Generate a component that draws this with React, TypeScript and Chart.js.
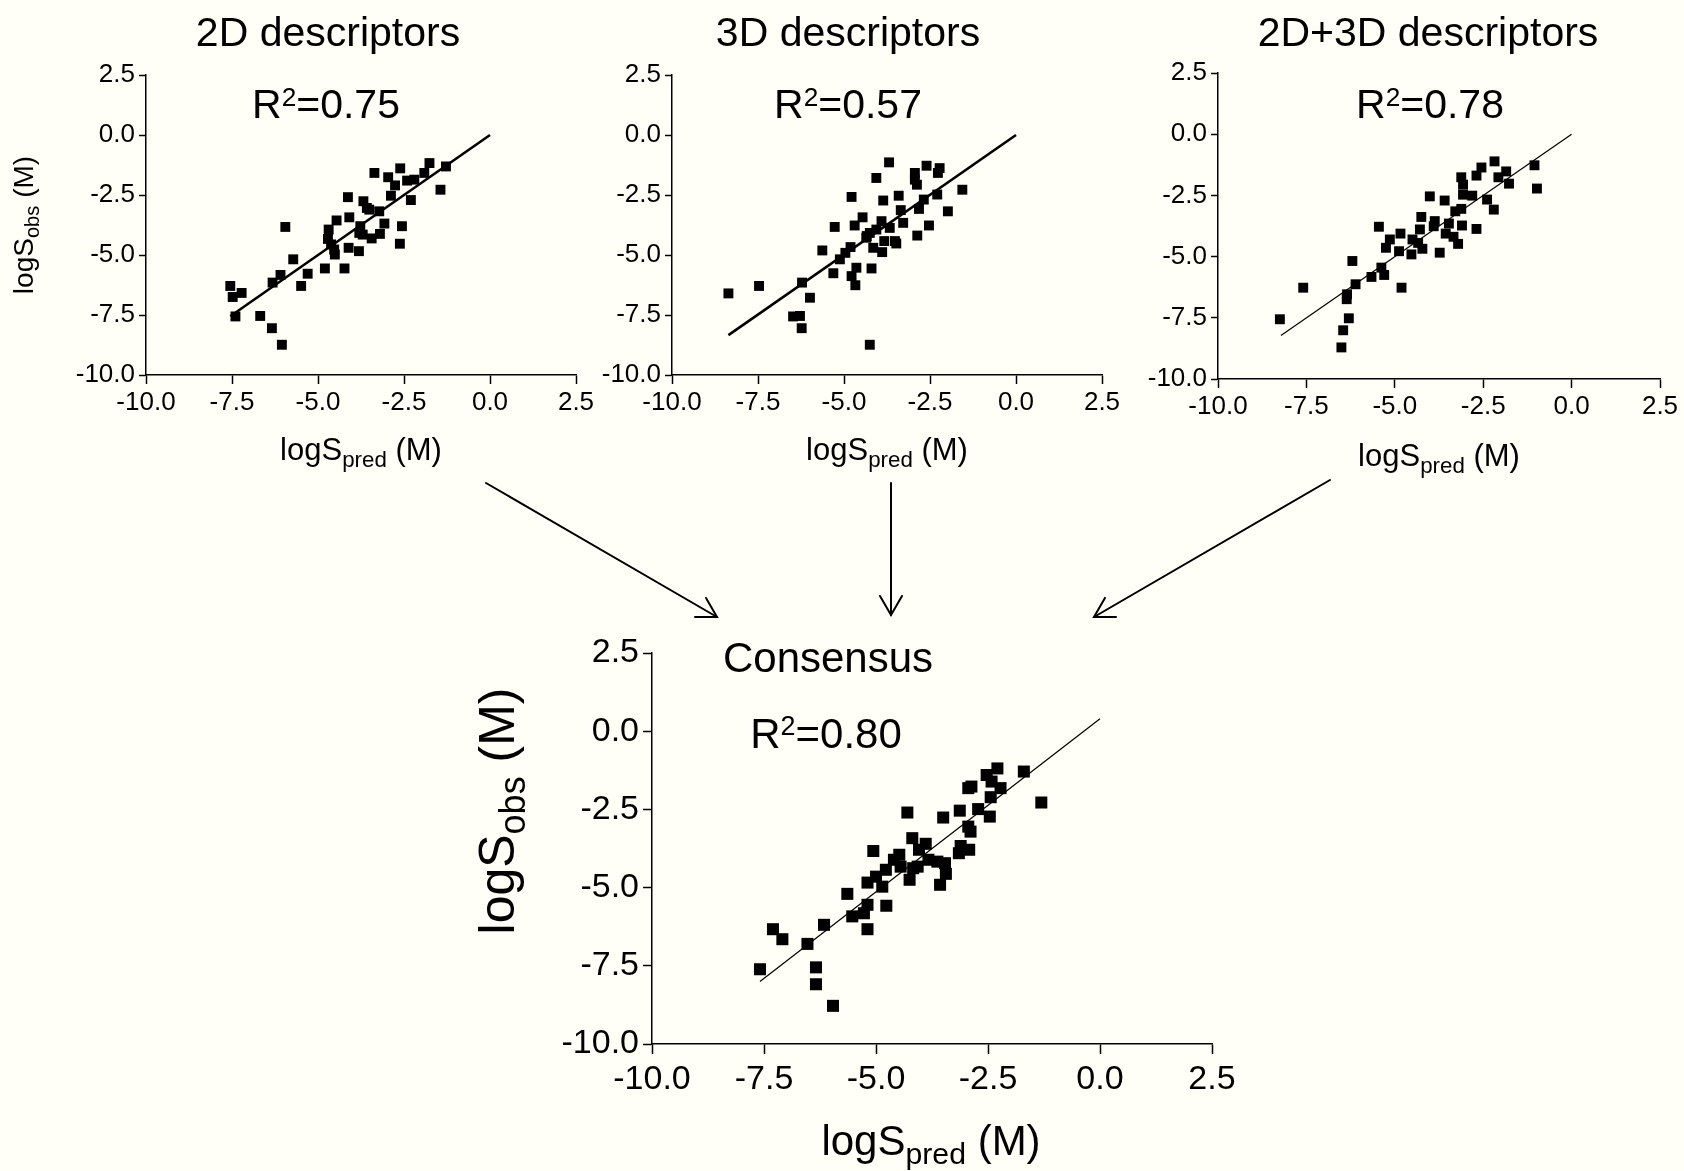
import React, { useEffect, useRef } from 'react';
import { Chart, registerables } from 'chart.js';

Chart.register(...registerables);

const FONT = '"Liberation Sans", Arial, Helvetica, sans-serif';
const BG = '#FFFFF7';

// Axis ticks shared by all four panels
const TICK_VALUES = [-10, -7.5, -5, -2.5, 0, 2.5];
const AXIS_MIN = -10;
const AXIS_MAX = 2.5;

// Panel 1: 2D descriptors
const pred2D = [-7.55, -7.48, -7.22, -7.40, -6.68, -6.34, -6.05, -5.95, -5.72, -6.09, -6.32, -5.49, -5.30, -4.80, -4.23, -4.69, -4.71, -4.62, -4.53, -4.51, -4.46, -4.11, -4.13, -4.09, -3.81, -3.77, -3.70, -3.68, -3.51, -3.22, -3.44, -3.20, -3.07, -3.36, -2.96, -2.76, -2.88, -2.61, -2.56, -2.62, -2.30, -2.41, -2.20, -1.91, -1.76, -1.28, -1.44, -3.58, -3.80];
const obs2D = [-6.29, -6.75, -6.58, -7.56, -7.54, -8.05, -8.74, -3.83, -5.18, -5.83, -6.15, -6.29, -5.78, -5.56, -5.56, -3.94, -4.33, -4.56, -4.77, -4.98, -3.56, -4.70, -2.59, -3.43, -4.84, -3.80, -4.15, -2.76, -3.11, -3.18, -4.31, -4.12, -3.69, -1.58, -1.76, -2.10, -2.53, -1.39, -3.80, -4.53, -2.71, -1.90, -1.86, -1.58, -1.17, -1.31, -2.28, -3.04, -4.08];
const fit2DX = [-7.55, 0];
const fit2DY = [-7.55, 0];

// Panel 2: 3D descriptors
const pred3D = [-8.36, -7.47, -6.22, -5.99, -6.48, -6.28, -6.23, -4.25, -5.63, -5.27, -5.31, -5.12, -4.96, -4.81, -4.78, -4.67, -4.64, -4.20, -4.78, -4.69, -4.46, -4.34, -4.25, -4.15, -4.06, -3.91, -3.86, -3.89, -3.83, -3.69, -3.67, -3.52, -3.48, -3.41, -3.35, -3.28, -2.94, -2.94, -2.88, -2.87, -2.82, -2.68, -2.60, -2.53, -2.29, -2.27, -2.22, -1.98, -1.56, -4.35, -4.06];
const obs3D = [-6.60, -6.29, -6.15, -6.78, -7.56, -7.54, -8.05, -8.74, -4.81, -3.83, -5.76, -5.18, -4.91, -4.67, -5.88, -6.26, -5.53, -5.56, -2.58, -3.77, -3.43, -4.21, -4.08, -4.70, -1.79, -3.59, -2.73, -4.88, -4.42, -1.14, -3.87, -4.42, -4.52, -2.53, -3.13, -3.66, -1.58, -1.86, -2.07, -4.19, -3.08, -2.69, -1.28, -3.77, -2.48, -1.58, -1.38, -3.18, -2.28, -4.28, -3.94];
const fit3DX = [-8.36, 0];
const fit3DY = [-8.34, 0];

// Panel 3: 2D+3D descriptors
const pred23D = [-8.25, -7.59, -6.51, -6.46, -6.30, -6.36, -6.35, -6.11, -6.20, -5.66, -5.38, -5.30, -4.81, -5.45, -5.25, -5.14, -4.88, -4.84, -4.53, -4.50, -4.29, -4.25, -4.22, -4.34, -4.01, -3.90, -3.87, -3.73, -3.59, -3.56, -3.47, -3.34, -3.21, -3.29, -3.12, -3.10, -3.12, -3.07, -3.07, -2.81, -2.69, -2.69, -2.55, -2.39, -2.20, -2.18, -2.07, -1.85, -1.77, -1.05, -0.98];
const obs23D = [-7.56, -6.27, -8.71, -8.01, -7.52, -6.74, -6.54, -6.13, -5.18, -5.83, -5.45, -5.75, -6.27, -3.78, -4.64, -4.30, -4.78, -4.06, -4.91, -4.30, -3.89, -3.38, -4.68, -4.44, -2.54, -3.76, -3.55, -4.84, -2.71, -4.06, -3.65, -4.19, -4.48, -3.15, -3.05, -3.73, -1.76, -2.06, -2.47, -2.51, -3.87, -1.69, -1.36, -2.67, -3.08, -1.11, -1.76, -1.52, -2.02, -1.27, -2.22];
const fit23DX = [-8.22, 0];
const fit23DY = [-8.22, 0];

// Panel 4: Consensus
const predCons = [-7.59, -7.30, -7.09, -6.53, -6.34, -6.34, -5.96, -6.16, -5.64, -5.53, -5.27, -5.19, -5.19, -5.19, -5.00, -4.86, -4.77, -5.06, -4.78, -4.60, -4.48, -4.45, -4.30, -4.25, -4.19, -4.17, -4.07, -4.04, -3.89, -3.83, -3.57, -3.50, -3.46, -3.44, -3.15, -3.11, -2.92, -3.13, -2.94, -2.89, -2.94, -2.87, -2.72, -2.53, -2.46, -2.44, -2.42, -2.29, -2.22, -1.70, -1.31, -3.63];
const obsCons = [-7.61, -6.33, -6.65, -6.80, -7.55, -8.09, -8.78, -6.19, -5.20, -5.92, -5.82, -5.55, -6.33, -4.84, -4.65, -4.97, -5.58, -3.83, -4.43, -4.11, -3.95, -4.33, -2.60, -4.75, -3.42, -4.38, -4.33, -3.79, -3.60, -4.11, -4.91, -2.76, -4.22, -4.56, -3.90, -3.67, -3.79, -2.54, -3.05, -3.21, -1.82, -1.77, -2.49, -1.40, -2.73, -2.11, -1.61, -1.19, -1.82, -1.29, -2.28, -4.17];
const fitConsX = [-7.59, 0];
const fitConsY = [-8.0, 0.4];

const PANEL_TITLES = ['2D descriptors', '3D descriptors', '2D+3D descriptors', 'Consensus'];
const R2_VALUES = ['0.75', '0.57', '0.78', '0.80'];

type Part = { t: string; size: number; dy?: number };
type TextItem = { parts: Part[]; x: number; y: number; rotate?: boolean };

function drawParts(ctx: CanvasRenderingContext2D, item: TextItem) {
  let total = 0;
  const widths = item.parts.map((p) => {
    ctx.font = `${p.size}px ${FONT}`;
    const w = ctx.measureText(p.t).width;
    total += w;
    return w;
  });
  ctx.save();
  ctx.translate(item.x, item.y);
  if (item.rotate) ctx.rotate(-Math.PI / 2);
  ctx.textBaseline = 'alphabetic';
  ctx.textAlign = 'left';
  ctx.fillStyle = '#000';
  let cx = -total / 2;
  item.parts.forEach((p, i) => {
    ctx.font = `${p.size}px ${FONT}`;
    ctx.fillText(p.t, cx, p.dy || 0);
    cx += widths[i];
  });
  ctx.restore();
}

const titleItem = (t: string, x: number, y: number, size: number): TextItem => ({ parts: [{ t, size }], x, y });
const r2Item = (v: string, x: number, y: number, size: number): TextItem => ({
  parts: [
    { t: 'R', size },
    { t: '2', size: size * 0.64, dy: -size * 0.3 },
    { t: '=' + v, size },
  ],
  x,
  y,
});
const axisItem = (sub: string, x: number, y: number, size: number, rotate = false): TextItem => ({
  parts: [
    { t: 'logS', size },
    { t: sub, size: size * 0.72, dy: size * 0.22 },
    { t: ' (M)', size },
  ],
  x,
  y,
  rotate,
});

type PanelProps = {
  left: number;
  top: number;
  width: number;
  height: number;
  pred: number[];
  obs: number[];
  fitX: number[];
  fitY: number[];
  pointRadius: number;
  lineWidth: number;
  tickFont: number;
  tickLenX: number;
  tickLenY: number;
  tickPadX: number;
  tickPadY: number;
  yAxisWidth: number;
  xAxisHeight: number;
  padTop: number;
  padRight: number;
  texts: TextItem[];
};

function Panel(props: PanelProps) {
  const ref = useRef<HTMLCanvasElement | null>(null);
  useEffect(() => {
    const canvas = ref.current;
    if (!canvas) return;
    const { left, top, texts } = props;
    const textPlugin = {
      id: 'figText',
      afterDraw(chart: any) {
        const ctx = chart.ctx as CanvasRenderingContext2D;
        ctx.save();
        ctx.translate(-left, -top);
        texts.forEach((it) => drawParts(ctx, it));
        ctx.restore();
      },
    };
    const tickCfg = (size: number, pad: number) => ({
      color: '#000',
      font: { family: FONT, size },
      padding: pad,
      autoSkip: false,
      maxRotation: 0,
      callback: (v: any) => Number(v).toFixed(1),
    });
    const chart = new Chart(canvas, {
      type: 'scatter',
      data: {
        datasets: [
          {
            data: props.pred.map((x, i) => ({ x, y: props.obs[i] })),
            pointStyle: 'rect',
            pointRadius: props.pointRadius,
            pointHoverRadius: props.pointRadius,
            backgroundColor: '#000',
            borderColor: '#000',
            borderWidth: 0,
          } as any,
          {
            data: props.fitX.map((x, i) => ({ x, y: props.fitY[i] })),
            showLine: true,
            pointRadius: 0,
            borderColor: '#000',
            borderWidth: props.lineWidth,
            fill: false,
          } as any,
        ],
      },
      options: {
        responsive: false,
        maintainAspectRatio: false,
        animation: false,
        events: [],
        layout: { padding: { left: 0, top: props.padTop, right: props.padRight, bottom: 0 } },
        plugins: { legend: { display: false }, tooltip: { enabled: false }, title: { display: false } },
        scales: {
          x: {
            type: 'linear',
            position: 'bottom',
            min: AXIS_MIN,
            max: AXIS_MAX,
            afterBuildTicks: (s: any) => {
              s.ticks = TICK_VALUES.map((value) => ({ value }));
            },
            ticks: tickCfg(props.tickFont, props.tickPadX),
            grid: { display: true, drawOnChartArea: false, drawTicks: true, tickLength: props.tickLenX, tickWidth: 1.5, tickColor: '#000' },
            border: { display: true, color: '#000', width: 1.5 },
            afterFit: (s: any) => {
              s.height = props.xAxisHeight;
            },
          },
          y: {
            type: 'linear',
            position: 'left',
            min: AXIS_MIN,
            max: AXIS_MAX,
            afterBuildTicks: (s: any) => {
              s.ticks = TICK_VALUES.map((value) => ({ value }));
            },
            ticks: tickCfg(props.tickFont, props.tickPadY),
            grid: { display: true, drawOnChartArea: false, drawTicks: true, tickLength: props.tickLenY, tickWidth: 1.5, tickColor: '#000' },
            border: { display: true, color: '#000', width: 1.5 },
            afterFit: (s: any) => {
              s.width = props.yAxisWidth;
            },
          },
        },
      } as any,
      plugins: [textPlugin as any],
    });
    return () => chart.destroy();
  }, []);
  return (
    <canvas
      ref={ref}
      width={props.width}
      height={props.height}
      style={{ position: 'absolute', left: props.left, top: props.top, width: props.width, height: props.height }}
    />
  );
}

type Arrow = { x1: number; y1: number; x2: number; y2: number };
const ARROWS: Arrow[] = [
  { x1: 486, y1: 483, x2: 717, y2: 617 },
  { x1: 891, y1: 483, x2: 891, y2: 615 },
  { x1: 1330, y1: 480, x2: 1094, y2: 617 },
];

function Arrows() {
  const head = 22;
  const half = Math.PI / 6;
  return (
    <svg width={1684} height={1171} style={{ position: 'absolute', left: 0, top: 0 }}>
      {ARROWS.map((a, i) => {
        const ang = Math.atan2(a.y1 - a.y2, a.x1 - a.x2);
        const p1 = [a.x2 + head * Math.cos(ang + half), a.y2 + head * Math.sin(ang + half)];
        const p2 = [a.x2 + head * Math.cos(ang - half), a.y2 + head * Math.sin(ang - half)];
        return (
          <g key={i} stroke="#000" strokeWidth={2} fill="none" strokeLinecap="round">
            <line x1={a.x1} y1={a.y1} x2={a.x2} y2={a.y2} />
            <polyline points={`${p1[0]},${p1[1]} ${a.x2},${a.y2} ${p2[0]},${p2[1]}`} />
          </g>
        );
      })}
    </svg>
  );
}

export default function App() {
  const topCommon = {
    pointRadius: 7,
    tickFont: 26,
    tickLenX: 9,
    tickLenY: 7,
    tickPadX: 3,
    tickPadY: 4,
  };
  return (
    <div style={{ position: 'fixed', left: 0, top: 0, width: 1684, height: 1171, background: BG, overflow: 'hidden' }}>
      <Arrows />
      <Panel
        {...topCommon}
        left={0}
        top={0}
        width={640}
        height={485}
        pred={pred2D}
        obs={obs2D}
        fitX={fit2DX}
        fitY={fit2DY}
        lineWidth={2.6}
        yAxisWidth={146}
        xAxisHeight={110}
        padTop={75}
        padRight={64}
        texts={[
          titleItem(PANEL_TITLES[0], 328, 46, 41),
          r2Item(R2_VALUES[0], 326, 118, 41),
          axisItem('pred', 361, 460, 31),
          axisItem('obs', 33, 225, 28, true),
        ]}
      />
      <Panel
        {...topCommon}
        left={520}
        top={0}
        width={640}
        height={485}
        pred={pred3D}
        obs={obs3D}
        fitX={fit3DX}
        fitY={fit3DY}
        lineWidth={2.6}
        yAxisWidth={152}
        xAxisHeight={110}
        padTop={75}
        padRight={58}
        texts={[
          titleItem(PANEL_TITLES[1], 848, 46, 41),
          r2Item(R2_VALUES[1], 848, 118, 41),
          axisItem('pred', 887, 460, 31),
        ]}
      />
      <Panel
        {...topCommon}
        left={1070}
        top={0}
        width={614}
        height={485}
        pred={pred23D}
        obs={obs23D}
        fitX={fit23DX}
        fitY={fit23DY}
        lineWidth={1.2}
        yAxisWidth={148}
        xAxisHeight={106}
        padTop={73}
        padRight={24}
        texts={[
          titleItem(PANEL_TITLES[2], 1428, 46, 41),
          r2Item(R2_VALUES[2], 1430, 118, 41),
          axisItem('pred', 1439, 466, 31),
        ]}
      />
      <Panel
        left={440}
        top={600}
        width={820}
        height={571}
        pred={predCons}
        obs={obsCons}
        fitX={fitConsX}
        fitY={fitConsY}
        pointRadius={8.5}
        lineWidth={1.2}
        tickFont={34}
        tickLenX={10}
        tickLenY={9}
        tickPadX={5}
        tickPadY={4}
        yAxisWidth={212}
        xAxisHeight={127}
        padTop={53}
        padRight={48}
        texts={[
          titleItem(PANEL_TITLES[3], 828, 672, 42),
          r2Item(R2_VALUES[3], 826, 748, 42),
          axisItem('pred', 931, 1155, 42),
          axisItem('obs', 514, 811, 50, true),
        ]}
      />
    </div>
  );
}
